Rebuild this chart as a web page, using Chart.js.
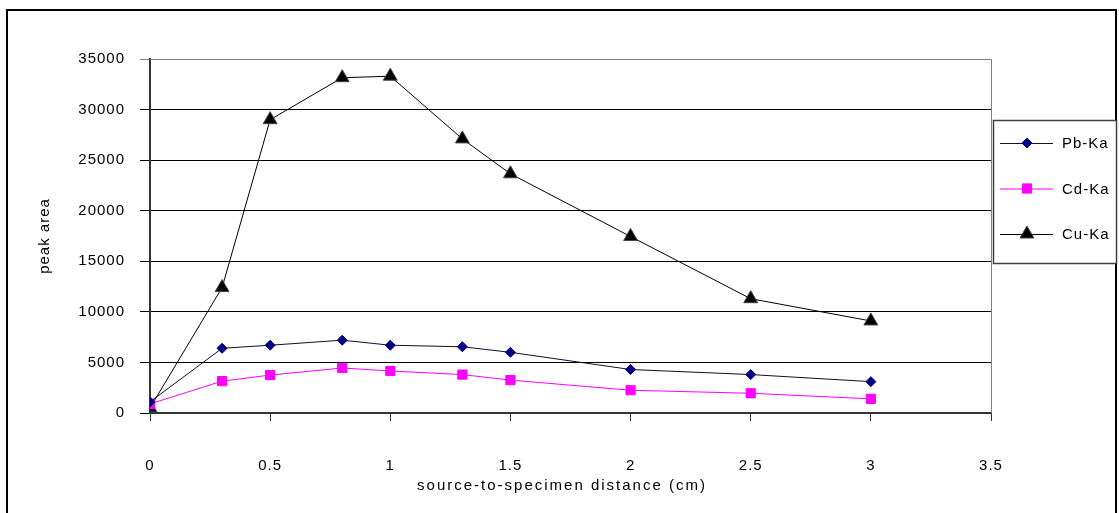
<!DOCTYPE html>
<html>
<head>
<meta charset="utf-8">
<script src="https://cdn.jsdelivr.net/npm/chart.js@4/dist/chart.umd.min.js"></script>
<style>
  html, body { margin: 0; padding: 0; background: #fff; }
  #wrap { width: 1119px; height: 513px; position: relative; }
</style>
</head>
<body>
<div id="wrap"><canvas id="c" width="1119" height="513"></canvas></div>
<script>
// Measured peak areas versus source-to-specimen distance
const distances = [0, 0.3, 0.5, 0.8, 1, 1.3, 1.5, 2, 2.5, 3];
const pbKa = [1100, 6400, 6700, 7200, 6700, 6550, 6000, 4300, 3800, 3100];
const cdKa = [900, 3150, 3750, 4450, 4150, 3800, 3250, 2250, 1950, 1400];
const cuKa = [500, 12400, 29000, 33150, 33300, 27100, 23650, 17450, 11300, 9100];
const seriesNames = ['Pb-Ka', 'Cd-Ka', 'Cu-Ka'];
const xTitle = 'source-to-specimen distance (cm)';
const yTitle = 'peak area';

const FONT = 'Liberation Sans, Arial, Helvetica, sans-serif';

const toPoints = (vals) => distances.map((d, i) => ({ x: d, y: vals[i] }));

// Frame, plot outline, axis titles and the boxed legend on the right
const decorations = {
  id: 'decorations',
  beforeDraw(chart) {
    const ctx = chart.ctx;
    ctx.save();
    ctx.fillStyle = '#fff';
    ctx.fillRect(0, 0, chart.width, chart.height);
    ctx.restore();
    ctx.letterSpacing = '1px';
  },
  beforeDatasetsDraw(chart) {
    const ctx = chart.ctx;
    const a = chart.chartArea;
    ctx.save();
    ctx.strokeStyle = '#808080';
    ctx.lineWidth = 1;
    ctx.beginPath();
    ctx.moveTo(a.left, a.top + 0.5);
    ctx.lineTo(a.right + 0.5, a.top + 0.5);
    ctx.lineTo(a.right + 0.5, a.bottom);
    ctx.stroke();
    ctx.restore();
  },
  afterDraw(chart) {
    const ctx = chart.ctx;
    const a = chart.chartArea;
    ctx.save();

    // outer frame
    ctx.strokeStyle = '#000';
    ctx.lineWidth = 2;
    ctx.strokeRect(7, 10, 1109, 520);

    // axis titles
    ctx.fillStyle = '#000';
    ctx.font = '15px ' + FONT;
    ctx.letterSpacing = '2px';
    ctx.textAlign = 'center';
    ctx.textBaseline = 'middle';
    ctx.fillText(xTitle, 562, 486);
    ctx.letterSpacing = '1px';
    ctx.save();
    ctx.translate(45, (a.top + a.bottom) / 2);
    ctx.rotate(-Math.PI / 2);
    ctx.fillText(yTitle, 0, 0);
    ctx.restore();

    // legend box
    ctx.fillStyle = '#fff';
    ctx.fillRect(993, 120, 123, 143);
    ctx.strokeStyle = '#404040';
    ctx.lineWidth = 1.5;
    ctx.strokeRect(993.5, 120.5, 123, 143);

    chart.data.datasets.forEach((ds, i) => {
      const y = 143 + i * 45.5;
      ctx.strokeStyle = ds.borderColor;
      ctx.lineWidth = 1;
      ctx.beginPath();
      ctx.moveTo(1000, y + 0.5);
      ctx.lineTo(1053, y + 0.5);
      ctx.stroke();
      ctx.fillStyle = ds.pointBackgroundColor;
      ctx.strokeStyle = ds.pointBorderColor;
      Chart.helpers.drawPoint(ctx, {
        pointStyle: ds.pointStyle,
        radius: ds.pointRadius,
        rotation: 0,
        borderWidth: ds.pointBorderWidth
      }, 1027, y);
      ctx.fillStyle = '#000';
      ctx.textAlign = 'left';
      ctx.textBaseline = 'middle';
      ctx.font = '15px ' + FONT;
      ctx.fillText(ds.label, 1062, y + 1);
    });

    ctx.restore();
    ctx.letterSpacing = '0px';
  }
};

new Chart(document.getElementById('c'), {
  type: 'scatter',
  data: {
    datasets: [
      {
        label: seriesNames[0],
        data: toPoints(pbKa),
        showLine: true,
        borderColor: '#101030',
        borderWidth: 1,
        pointStyle: 'rectRot',
        pointRadius: 5,
        pointHoverRadius: 5,
        pointBackgroundColor: '#000080',
        pointBorderColor: '#000080',
        pointBorderWidth: 1
      },
      {
        label: seriesNames[1],
        data: toPoints(cdKa),
        showLine: true,
        borderColor: '#ff00ff',
        borderWidth: 1,
        pointStyle: 'rect',
        pointRadius: 6.5,
        pointHoverRadius: 6.5,
        pointBackgroundColor: '#ff00ff',
        pointBorderColor: '#ff00ff',
        pointBorderWidth: 1
      },
      {
        label: seriesNames[2],
        data: toPoints(cuKa),
        showLine: true,
        borderColor: '#000',
        borderWidth: 1,
        pointStyle: 'triangle',
        pointRadius: 8,
        pointHoverRadius: 8,
        pointBackgroundColor: '#000',
        pointBorderColor: '#444',
        pointBorderWidth: 1
      }
    ]
  },
  options: {
    responsive: false,
    animation: false,
    devicePixelRatio: 1,
    layout: { padding: { left: 0, top: 59, right: 128, bottom: 0 }, autoPadding: false },
    plugins: {
      legend: { display: false },
      tooltip: { enabled: false },
      title: { display: false }
    },
    scales: {
      x: {
        type: 'linear',
        min: 0,
        max: 3.5,
        afterFit(scale) { scale.height = 100; },
        ticks: {
          stepSize: 0.5,
          padding: 36,
          color: '#000',
          font: { family: FONT, size: 15 },
          maxRotation: 0,
          callback: (v) => String(v)
        },
        grid: { drawOnChartArea: false, drawTicks: true, tickLength: 8, color: '#333', lineWidth: 1 },
        border: { display: true, color: '#333', width: 2 }
      },
      y: {
        type: 'linear',
        min: 0,
        max: 35000,
        afterFit(scale) { scale.width = 150; },
        ticks: {
          stepSize: 5000,
          padding: 15,
          color: '#000',
          font: { family: FONT, size: 15 },
          callback: (v) => String(v)
        },
        grid: {
          drawTicks: true,
          tickLength: 10,
          lineWidth: 1,
          color: (c) => (c.tick && c.tick.value === 35000 ? '#808080' : '#000')
        },
        border: { display: true, color: '#333', width: 2 }
      }
    }
  },
  plugins: [decorations]
});
</script>
</body>
</html>
